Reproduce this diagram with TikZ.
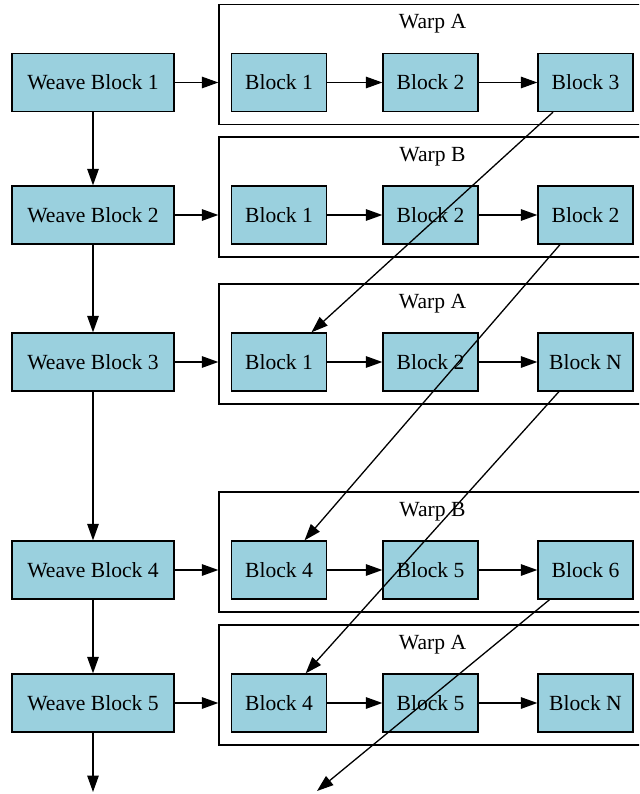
\documentclass[tikz,border=0pt]{standalone}
\usepackage{fontspec}
\setmainfont{Liberation Serif}
\usetikzlibrary{arrows.meta}
\definecolor{boxblue}{RGB}{154,208,222}
\begin{document}
\begin{tikzpicture}[x=1pt,y=-1pt,
  blk/.style={draw, fill=boxblue, line width=1.3pt, minimum height=58pt, inner sep=0pt, font=\fontsize{21.6}{25}\selectfont},
  wb/.style={blk, minimum width=162pt},
  ib/.style={blk, minimum width=95pt},
  clus/.style={draw, line width=1.3pt, minimum width=427pt, minimum height=120pt, inner sep=0pt},
  clab/.style={font=\fontsize{21.6}{25}\selectfont, inner sep=0pt, anchor=base},
  arr/.style={line width=1.3pt, -{Triangle[length=16.5pt,width=11.5pt]}}]
\useasboundingbox (0,0) rectangle (639,794);
\clip (0,0) rectangle (639,794);
% clusters
\node[clus] (c1) at (432.5,64.5) {};
\node[clus] (c2) at (432.5,197) {};
\node[clus] (c3) at (432.5,344) {};
\node[clus] (c4) at (432.5,552) {};
\node[clus] (c5) at (432.5,685) {};
\node[clab] (l1) at (432.5,29) {Warp A};
\node[clab] (l2) at (432.5,161.5) {Warp B};
\node[clab] (l3) at (432.5,308.5) {Warp A};
\node[clab] (l4) at (432.5,516.5) {Warp B};
\node[clab] (l5) at (432.5,649.5) {Warp A};
% weave blocks
\node[wb] (w1) at (93,82.5) {Weave Block 1};
\node[wb] (w2) at (93,215) {Weave Block 2};
\node[wb] (w3) at (93,362) {Weave Block 3};
\node[wb] (w4) at (93,570) {Weave Block 4};
\node[wb] (w5) at (93,703) {Weave Block 5};
% inner blocks
\node[ib] (a1) at (279,82.5) {Block 1};
\node[ib] (a2) at (430.5,82.5) {Block 2};
\node[ib] (a3) at (585.5,82.5) {Block 3};
\node[ib] (b1) at (279,215) {Block 1};
\node[ib] (b2) at (430.5,215) {Block 2};
\node[ib] (b3) at (585.5,215) {Block 2};
\node[ib] (d1) at (279,362) {Block 1};
\node[ib] (d2) at (430.5,362) {Block 2};
\node[ib] (d3) at (585.5,362) {Block N};
\node[ib] (e1) at (279,570) {Block 4};
\node[ib] (e2) at (430.5,570) {Block 5};
\node[ib] (e3) at (585.5,570) {Block 6};
\node[ib] (f1) at (279,703) {Block 4};
\node[ib] (f2) at (430.5,703) {Block 5};
\node[ib] (f3) at (585.5,703) {Block N};
\coordinate (endw) at (93,792);
\coordinate (endd) at (317,791);
% weave chain
\draw[arr] (w1) -- (w2);
\draw[arr] (w2) -- (w3);
\draw[arr] (w3) -- (w4);
\draw[arr] (w4) -- (w5);
\draw[arr] (w5) -- (endw);
% weave to clusters
\draw[arr] (w1.east) -- (w1.east -| c1.west);
\draw[arr] (w2.east) -- (w2.east -| c2.west);
\draw[arr] (w3.east) -- (w3.east -| c3.west);
\draw[arr] (w4.east) -- (w4.east -| c4.west);
\draw[arr] (w5.east) -- (w5.east -| c5.west);
% rows
\draw[arr] (a1) -- (a2); \draw[arr] (a2) -- (a3);
\draw[arr] (b1) -- (b2); \draw[arr] (b2) -- (b3);
\draw[arr] (d1) -- (d2); \draw[arr] (d2) -- (d3);
\draw[arr] (e1) -- (e2); \draw[arr] (e2) -- (e3);
\draw[arr] (f1) -- (f2); \draw[arr] (f2) -- (f3);
% diagonals
\draw[arr] (a3) -- (d1);
\draw[arr] (b3) -- (e1);
\draw[arr] (d3) -- (f1);
\draw[arr] (e3) -- (endd);
\end{tikzpicture}
\end{document}
